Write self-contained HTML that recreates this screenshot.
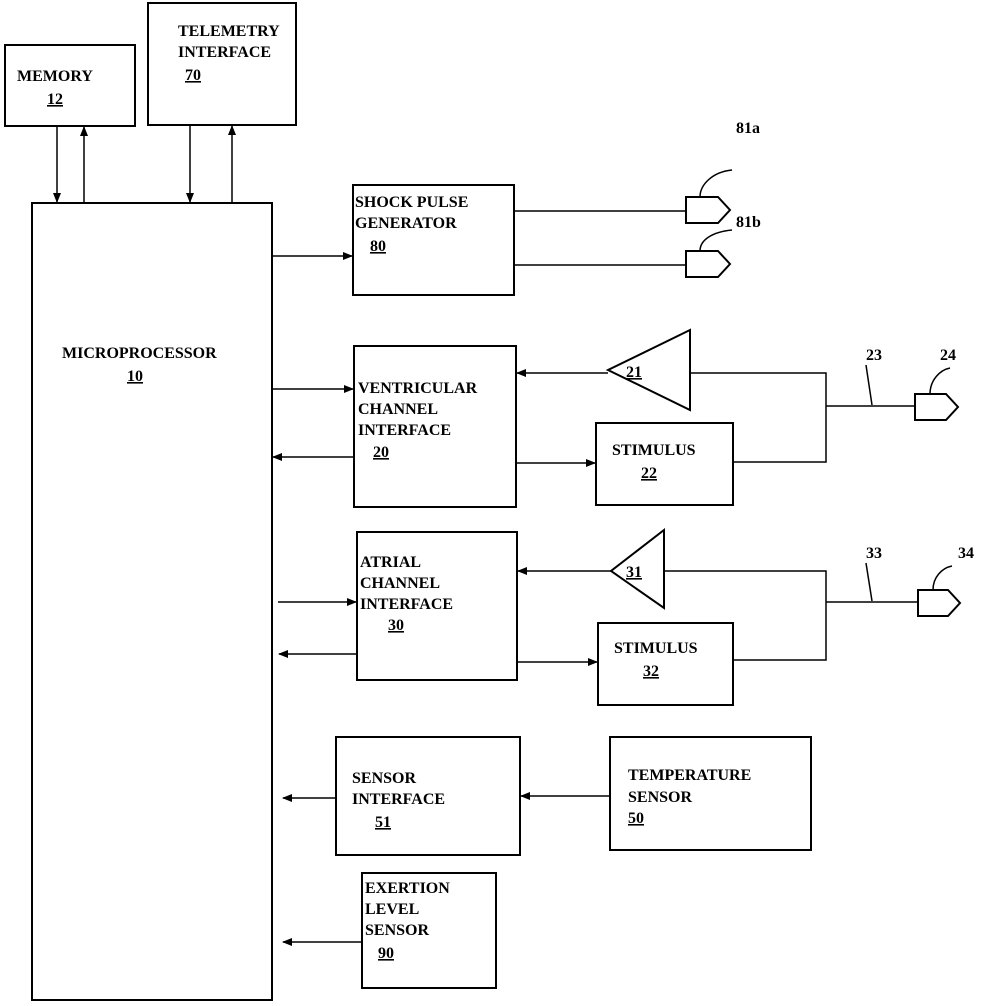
<!DOCTYPE html>
<html><head><meta charset="utf-8"><style>
html,body{margin:0;padding:0;background:#fff;}
svg text{font-family:"Liberation Serif",serif;font-weight:bold;font-size:16px;fill:#000;}
</style></head><body>
<svg width="988" height="1001" viewBox="0 0 988 1001" xmlns="http://www.w3.org/2000/svg">
<defs>
<marker id="a" markerWidth="10" markerHeight="8" refX="9" refY="4" orient="auto" markerUnits="userSpaceOnUse">
<path d="M0,0 L10,4 L0,8 Z" fill="#000"/></marker>
</defs>
<g fill="none" stroke="#000" stroke-width="2">
<rect x="5" y="45" width="130" height="81"/>
<rect x="148" y="3" width="148" height="122"/>
<rect x="32" y="203" width="240" height="797"/>
<rect x="353" y="185" width="161" height="110"/>
<rect x="354" y="346" width="162" height="161"/>
<rect x="596" y="423" width="137" height="82"/>
<rect x="357" y="532" width="160" height="148"/>
<rect x="598" y="623" width="135" height="82"/>
<rect x="336" y="737" width="184" height="118"/>
<rect x="610" y="737" width="201" height="113"/>
<rect x="362" y="873" width="134" height="115"/>
<path d="M690,330 L608,370 L690,410 Z"/>
<path d="M664,530 L611,571 L664,608 Z"/>
<path d="M686,197 H718 L730,210 L718,223 H686 Z"/>
<path d="M686,251 H718 L730,264 L718,277 H686 Z"/>
<path d="M915,394 H946 L958,407 L946,420 H915 Z"/>
<path d="M918,590 H948 L960,603 L948,616 H918 Z"/>
</g>
<g fill="none" stroke="#000" stroke-width="1.5">
<line x1="57" y1="126" x2="57" y2="202" marker-end="url(#a)"/>
<line x1="84" y1="203" x2="84" y2="127" marker-end="url(#a)"/>
<line x1="190" y1="125" x2="190" y2="202" marker-end="url(#a)"/>
<line x1="232" y1="203" x2="232" y2="126" marker-end="url(#a)"/>
<line x1="272" y1="256" x2="352" y2="256" marker-end="url(#a)"/>
<line x1="514" y1="211" x2="686" y2="211"/>
<line x1="514" y1="265" x2="686" y2="265"/>
<path d="M700,197 C700,185 712,172 732,170"/>
<path d="M700,251 C700,240 712,232 732,230"/>
<line x1="272" y1="389" x2="353" y2="389" marker-end="url(#a)"/>
<line x1="354" y1="457" x2="273" y2="457" marker-end="url(#a)"/>
<line x1="608" y1="373" x2="517" y2="373" marker-end="url(#a)"/>
<line x1="516" y1="463" x2="595" y2="463" marker-end="url(#a)"/>
<polyline points="690,373 826,373 826,462 733,462"/>
<line x1="826" y1="406" x2="915" y2="406"/>
<line x1="866" y1="365" x2="872" y2="405"/>
<path d="M930,394 C930,380 940,370 950,368"/>
<line x1="278" y1="602" x2="356" y2="602" marker-end="url(#a)"/>
<line x1="357" y1="654" x2="279" y2="654" marker-end="url(#a)"/>
<line x1="611" y1="571" x2="518" y2="571" marker-end="url(#a)"/>
<line x1="517" y1="662" x2="597" y2="662" marker-end="url(#a)"/>
<polyline points="664,571 826,571 826,660 733,660"/>
<line x1="826" y1="602" x2="918" y2="602"/>
<line x1="866" y1="563" x2="872" y2="601"/>
<path d="M933,590 C933,577 942,568 952,566"/>
<line x1="336" y1="798" x2="283" y2="798" marker-end="url(#a)"/>
<line x1="610" y1="796" x2="521" y2="796" marker-end="url(#a)"/>
<line x1="362" y1="942" x2="283" y2="942" marker-end="url(#a)"/>
</g>
<text x="17" y="81">MEMORY</text>
<text x="47" y="104" text-decoration="underline">12</text>
<text x="178" y="36">TELEMETRY</text>
<text x="178" y="57">INTERFACE</text>
<text x="185" y="80" text-decoration="underline">70</text>
<text x="62" y="358">MICROPROCESSOR</text>
<text x="127" y="381" text-decoration="underline">10</text>
<text x="355" y="207">SHOCK PULSE</text>
<text x="355" y="228">GENERATOR</text>
<text x="370" y="251" text-decoration="underline">80</text>
<text x="736" y="133">81a</text>
<text x="736" y="227">81b</text>
<text x="358" y="393">VENTRICULAR</text>
<text x="358" y="414">CHANNEL</text>
<text x="358" y="435">INTERFACE</text>
<text x="373" y="457" text-decoration="underline">20</text>
<text x="626" y="377" text-decoration="underline">21</text>
<text x="612" y="455">STIMULUS</text>
<text x="641" y="478" text-decoration="underline">22</text>
<text x="866" y="360">23</text>
<text x="940" y="360">24</text>
<text x="360" y="567">ATRIAL</text>
<text x="360" y="588">CHANNEL</text>
<text x="360" y="609">INTERFACE</text>
<text x="388" y="630" text-decoration="underline">30</text>
<text x="626" y="577" text-decoration="underline">31</text>
<text x="614" y="653">STIMULUS</text>
<text x="643" y="676" text-decoration="underline">32</text>
<text x="866" y="558">33</text>
<text x="958" y="558">34</text>
<text x="352" y="783">SENSOR</text>
<text x="352" y="804">INTERFACE</text>
<text x="375" y="827" text-decoration="underline">51</text>
<text x="628" y="780">TEMPERATURE</text>
<text x="628" y="802">SENSOR</text>
<text x="628" y="823" text-decoration="underline">50</text>
<text x="365" y="893">EXERTION</text>
<text x="365" y="914">LEVEL</text>
<text x="365" y="935">SENSOR</text>
<text x="378" y="958" text-decoration="underline">90</text>
</svg>
</body></html>
